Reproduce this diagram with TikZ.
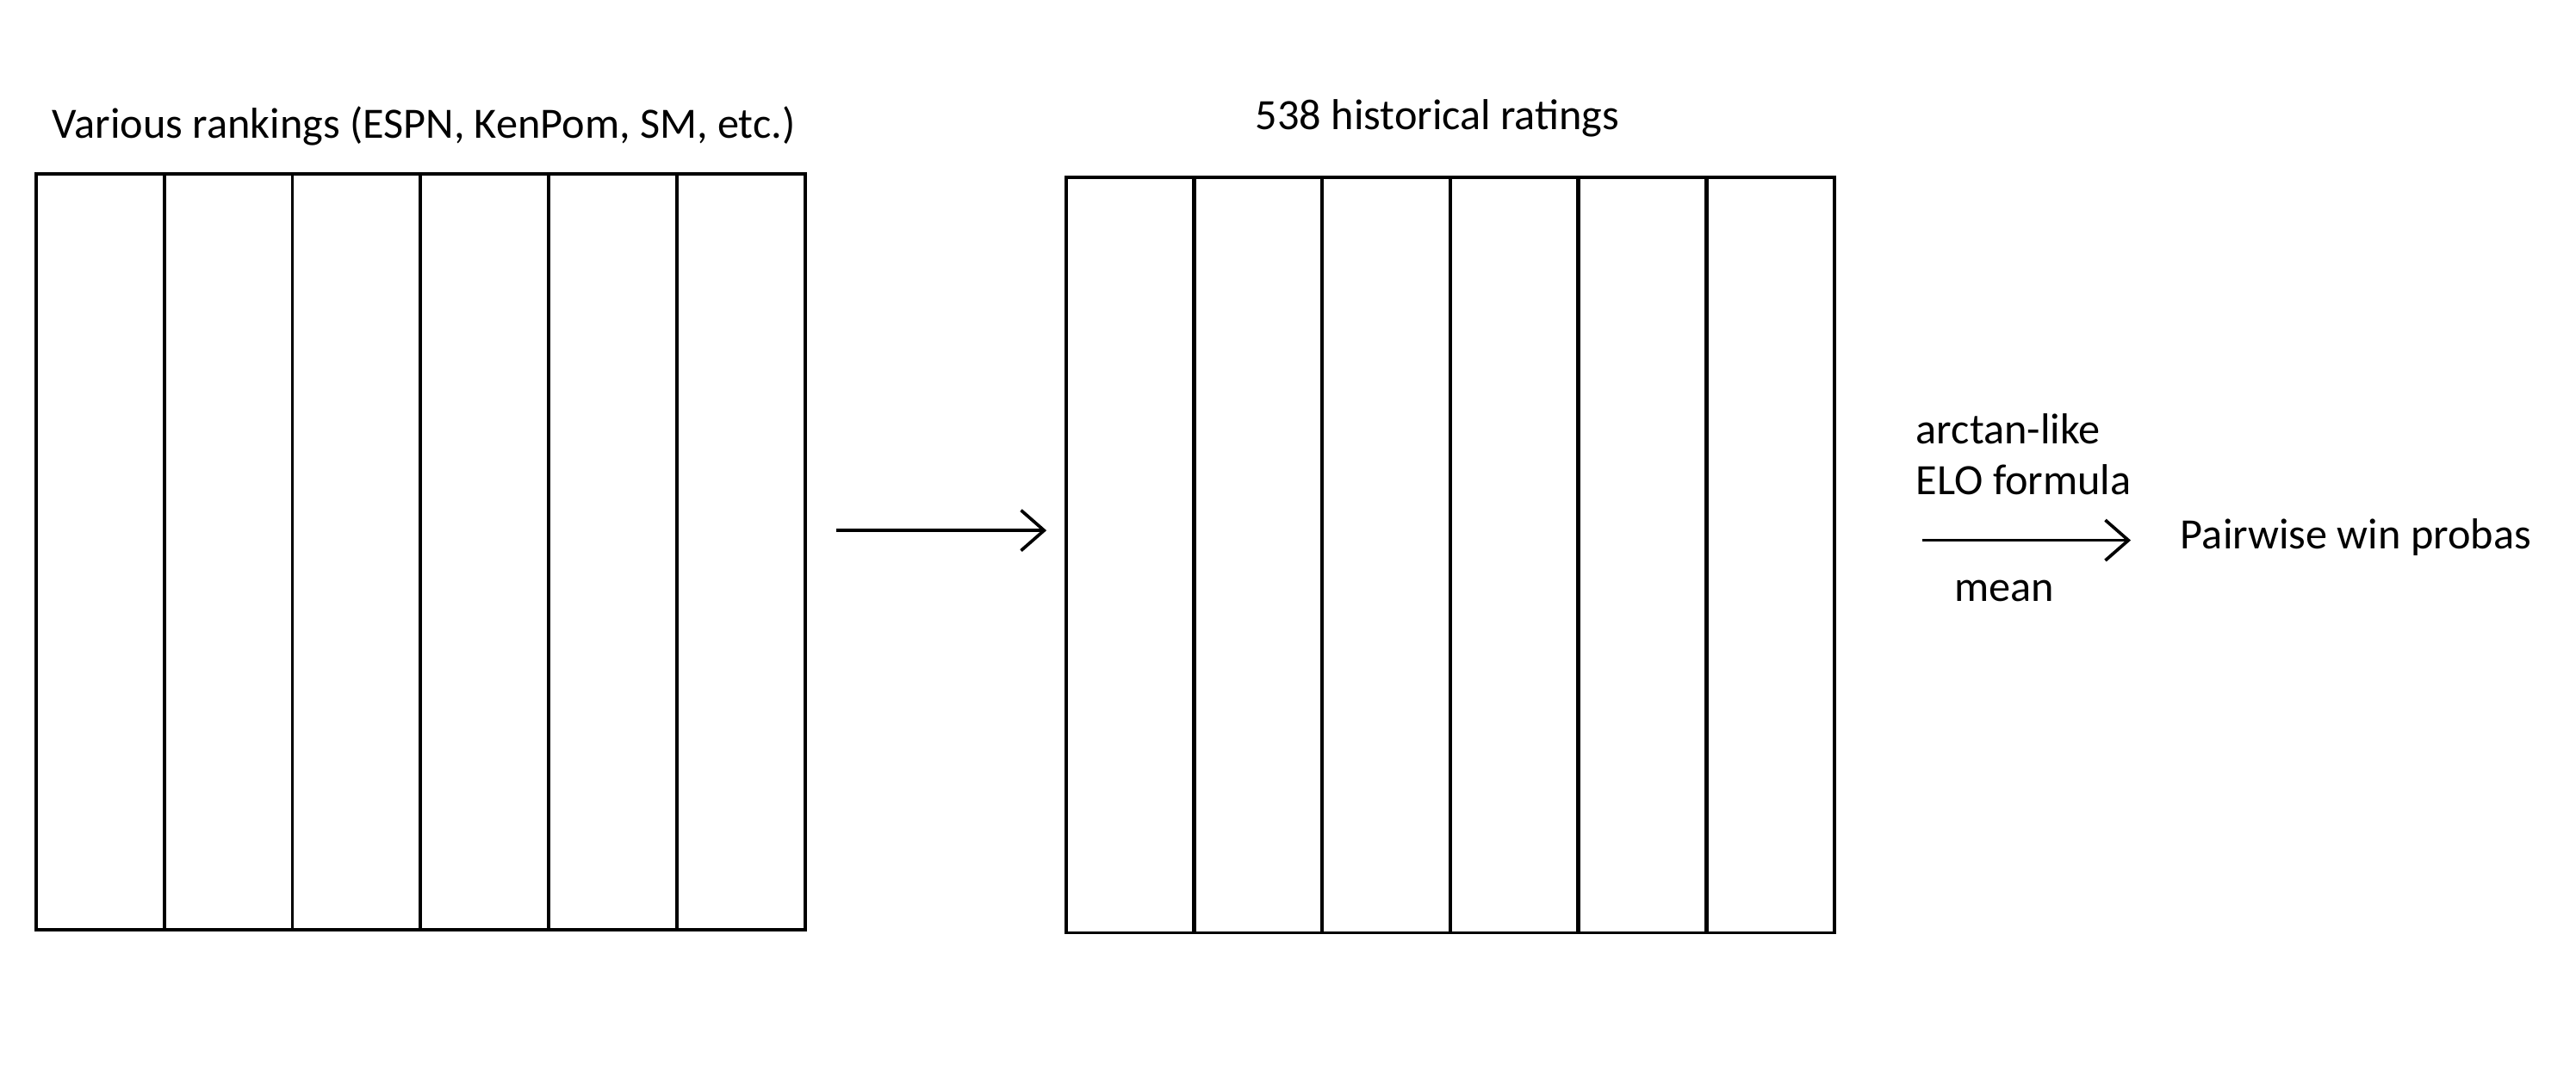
\documentclass[tikz,border=0pt]{standalone}
\usepackage{fontspec}
\setmainfont{Carlito}
\usetikzlibrary{positioning,arrows.meta}
\begin{document}
\begin{tikzpicture}[x=0.02cm,y=-0.02cm,
    lbl/.style={font=\fontsize{15pt}{18pt}\selectfont, inner sep=0pt},
    col/.style={line width=1.1pt},
    arr/.style={line width=1.1pt, -{Straight Barb[length=8pt,width=14pt]}}]
        \useasboundingbox (0,0) rectangle (1568,659);
        % various rankings
        \foreach \x in {22,100,178,256,334,412}
          \draw [col] (\x,106) rectangle +(78,460);
        \node [lbl] (rk) at (258,77) {Various rankings (ESPN, KenPom, SM, etc.)};
        % 538 ratings
        \foreach \x in {649,727,805,883,961,1039}
          \draw [col] (\x,108) rectangle +(77.5,460);
        \node [lbl] (fte) at (875,72) {538 historical ratings};
        % arrows
        \coordinate (a1) at (509,323);
        \coordinate (a2) at (637,323);
        \draw [arr] (a1) -- (a2);
        \node [lbl, anchor=west] (pw) at (1327,327) {Pairwise win probas};
        \coordinate (b1) at (1170,329);
        \coordinate (b2) at (1297,329);
        \draw [arr] (b1) -- (b2);
        \node [lbl, anchor=west] (arc) at (1166,261) {arctan-like};
        \node [lbl, anchor=west] (elo) at (1166,292) {ELO formula};
        \node [lbl] (mean) at (1220,360) {mean};
\end{tikzpicture}
\end{document}
